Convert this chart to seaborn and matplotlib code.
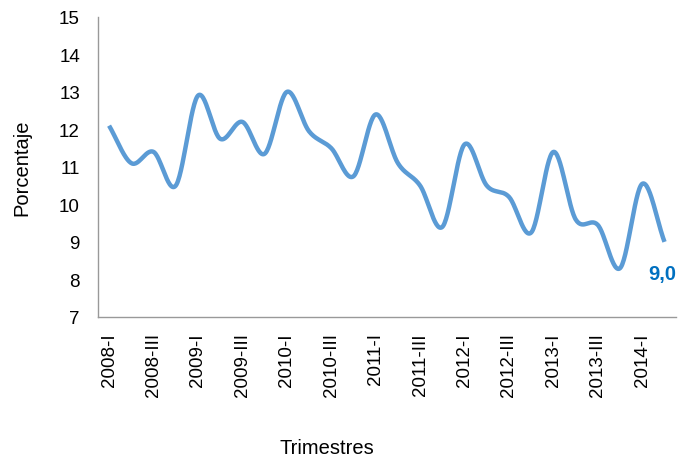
import matplotlib
matplotlib.use("Agg")
import matplotlib.pyplot as plt
import numpy as np
import pandas as pd
import seaborn as sns

# quarterly series, 2008-I .. 2014-II
quarters = [
    "2008-I", "2008-II", "2008-III", "2008-IV",
    "2009-I", "2009-II", "2009-III", "2009-IV",
    "2010-I", "2010-II", "2010-III", "2010-IV",
    "2011-I", "2011-II", "2011-III", "2011-IV",
    "2012-I", "2012-II", "2012-III", "2012-IV",
    "2013-I", "2013-II", "2013-III", "2013-IV",
    "2014-I", "2014-II",
]
values = [
    12.1, 11.1, 11.4, 10.5,
    12.9, 11.75, 12.2, 11.35,
    13.0, 11.95, 11.5, 10.75,
    12.4, 11.1, 10.5, 9.4,
    11.6, 10.5, 10.2, 9.25,
    11.4, 9.6, 9.45, 8.3,
    10.55, 9.0,
]
last_label = "9,0"

LINE_COLOR = "#5B9BD5"
LABEL_COLOR = "#0070C0"


def smooth_curve(y, steps=30):
    # Excel-like smoothed line: cubic Hermite with Catmull-Rom tangents
    y = np.asarray(y, dtype=float)
    n = len(y)
    t = np.gradient(y)
    t[0] = y[1] - y[0]
    t[-1] = y[-1] - y[-2]
    xs, ys = [], []
    for i in range(n - 1):
        s = np.linspace(0, 1, steps, endpoint=(i == n - 2))
        h00 = 2 * s**3 - 3 * s**2 + 1
        h10 = s**3 - 2 * s**2 + s
        h01 = -2 * s**3 + 3 * s**2
        h11 = s**3 - s**2
        xs.append(i + s)
        ys.append(h00 * y[i] + h10 * t[i] + h01 * y[i + 1] + h11 * t[i + 1])
    return np.concatenate(xs), np.concatenate(ys)


sns.set_theme(style="white")
plt.rcParams["font.family"] = ["Liberation Sans", "DejaVu Sans"]
plt.rcParams["text.color"] = "black"
plt.rcParams["axes.labelcolor"] = "black"
plt.rcParams["xtick.color"] = "black"
plt.rcParams["ytick.color"] = "black"

fig = plt.figure(figsize=(6.78, 4.60), dpi=100)
ax = fig.add_axes([0.1445, 0.309, 0.852, 0.652])

sx, sy = smooth_curve(values)
curve = pd.DataFrame({"x": sx, "y": sy})
sns.lineplot(data=curve, x="x", y="y", ax=ax, color=LINE_COLOR,
             linewidth=3.2, solid_capstyle="butt", sort=False)

n = len(quarters)
ax.text(n - 1 - 0.1, values[-1] - 0.85, last_label, color=LABEL_COLOR,
        fontsize=14.5, fontweight="bold", ha="center", va="center")

ax.set_xlim(-0.5, n - 0.5)
ax.set_ylim(7, 15)
ax.set_yticks(range(7, 16))
ax.set_xticks(range(0, n - 1, 2))
ax.set_xticklabels(quarters[0:n - 1:2], rotation=90)
ax.tick_params(axis="y", labelsize=13.5, length=0, pad=13)
ax.tick_params(axis="x", labelsize=13.5, length=0, pad=11)

ax.set_ylabel("Porcentaje", fontsize=14.5)
ax.yaxis.set_label_coords(-0.115, 0.5)
ax.set_xlabel("Trimestres", fontsize=14.5)
ax.xaxis.set_label_coords(0.396, -0.405)

for side in ["top", "right"]:
    ax.spines[side].set_visible(False)
for side in ["left", "bottom"]:
    ax.spines[side].set_color("#999999")
    ax.spines[side].set_linewidth(1.0)

fig.savefig("out.png", dpi=100)
